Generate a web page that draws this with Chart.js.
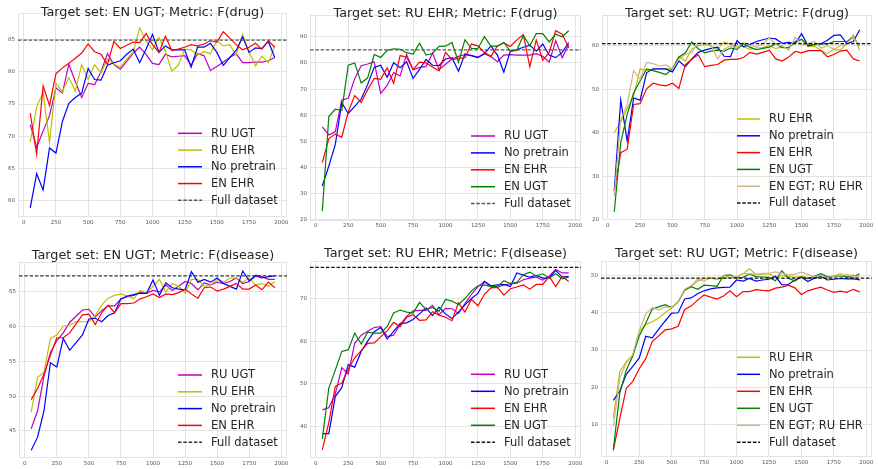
<!DOCTYPE html>
<html><head><meta charset="utf-8">
<script src="https://cdn.jsdelivr.net/npm/chart.js@4.4.0/dist/chart.umd.min.js"></script>
<style>
html,body{margin:0;padding:0;background:#fff;width:878px;height:469px;overflow:hidden}
.panel{position:absolute}
</style></head><body>
<div class="panel" style="left:0px;top:0px;width:293px;height:235px"><canvas id="c1"></canvas></div>
<div class="panel" style="left:293px;top:0px;width:293px;height:235px"><canvas id="c2"></canvas></div>
<div class="panel" style="left:585px;top:0px;width:293px;height:235px"><canvas id="c3"></canvas></div>
<div class="panel" style="left:0px;top:235px;width:293px;height:234px"><canvas id="c4"></canvas></div>
<div class="panel" style="left:293px;top:235px;width:293px;height:234px"><canvas id="c5"></canvas></div>
<div class="panel" style="left:585px;top:235px;width:293px;height:234px"><canvas id="c6"></canvas></div>
<script>
// ---------- shared x values (training set size) ----------
const steps = [50,100,150,200,250,300,350,400,450,500,550,600,650,700,750,800,850,900,950,1000,1050,1100,1150,1200,1250,1300,1350,1400,1450,1500,1550,1600,1650,1700,1750,1800,1850,1900,1950];
const xTicks = [0,250,500,750,1000,1250,1500,1750,2000];

// ---------- Plot 1: EN UGT, F(drug) ----------
const p1Title = "Target set: EN UGT; Metric: F(drug)";
const p1Full = 84.9;
const p1RuUgt = [71.8,68.3,70.8,73.2,77.5,76.7,81.2,78.5,76.0,78.2,78.0,80.0,82.8,81.1,80.4,81.6,82.9,83.8,82.7,81.3,81.1,82.7,82.3,82.4,82.5,81.0,82.8,82.5,80.2,80.8,81.5,82.2,82.8,81.4,81.4,81.5,81.5,81.7,82.2];
const p1RuEhr = [69.1,74.6,76.8,69.1,78.2,76.9,79.1,77.0,81.1,78.8,81.1,79.8,82.0,81.2,80.7,82.0,83.0,86.8,84.8,83.4,85.3,83.2,80.1,81.0,83.5,83.4,82.6,83.1,82.8,84.8,84.0,84.2,82.6,85.8,83.1,80.9,82.4,81.4,84.0];
const p1NoPre = [58.9,64.2,61.7,68.2,67.4,72.3,75.1,76.0,76.7,80.5,78.8,78.7,81.0,81.4,81.7,82.7,83.5,81.4,83.5,85.8,83.0,84.0,83.4,83.4,83.4,80.7,83.8,83.8,84.4,83.0,81.0,82.2,83.3,85.4,83.0,83.7,83.6,84.7,82.2];
const p1EnEhr = [73.6,67.2,77.8,74.8,79.7,80.6,81.3,82.1,82.9,84.3,83.1,82.7,81.1,84.7,83.6,84.1,84.6,84.5,85.9,84.2,83.0,85.5,83.3,83.5,83.8,84.2,84.0,84.3,84.8,84.6,86.2,85.2,84.2,83.4,83.8,84.4,83.5,84.8,83.8];

// ---------- Plot 2: RU EHR, F(drug) ----------
const p2Title = "Target set: RU EHR; Metric: F(drug)";
const p2Full = 85.0;
const p2RuUgt = [55.6,52.5,53.7,65.8,66.5,74.1,78.9,79.6,80.4,68.4,71.4,76.3,75.0,83.2,77.4,78.3,78.6,83.8,77.4,79.5,81.5,82.5,83.2,82.8,82.2,83.5,82.4,80.5,83.0,83.2,83.0,83.0,83.0,83.5,82.5,80.3,88.5,82.0,87.0];
const p2NoPre = [33.0,40.6,48.8,64.8,60.7,63.4,66.2,71.8,78.3,79.1,74.5,80.1,78.2,80.4,74.1,77.5,81.3,79.1,79.0,81.5,82.0,76.8,83.4,82.8,82.0,83.5,86.5,83.0,76.5,84.5,85.0,86.0,86.8,84.5,87.2,83.0,82.0,84.0,87.8];
const p2EnEhr = [41.9,51.1,52.8,51.6,61.3,67.5,64.9,69.8,74.1,73.7,78.1,72.2,82.8,82.2,77.5,80.3,80.0,78.4,77.0,84.0,81.3,81.7,82.0,87.2,86.5,84.0,82.5,86.5,87.6,86.3,88.8,90.8,78.5,88.7,81.0,84.0,92.3,91.0,85.7];
const p2EnUgt = [23.4,59.5,62.3,61.8,79.1,80.0,72.3,74.3,83.2,82.1,84.8,85.4,85.2,83.9,83.4,87.5,83.0,83.6,86.3,86.4,87.8,80.3,88.8,85.5,85.5,90.0,86.4,86.4,87.8,84.5,84.8,90.5,86.5,91.2,91.2,88.0,91.0,90.0,92.3];

// ---------- Plot 3: RU UGT, F(drug) ----------
const p3Title = "Target set: RU UGT; Metric: F(drug)";
const p3Full = 60.5;
const p3RuEhr = [40.0,42.5,45.5,48.5,54.7,54.3,54.6,54.7,54.7,54.7,57.6,56.5,59.3,60.0,60.3,59.9,59.2,60.9,60.3,60.0,59.8,59.2,59.5,59.6,60.0,59.4,59.7,59.5,60.8,61.5,59.8,59.9,59.0,58.2,59.2,59.0,60.5,62.5,59.0];
const p3NoPre = [26.6,47.5,38.1,48.0,47.5,53.8,54.7,54.7,54.7,54.0,56.5,55.2,57.0,58.5,59.0,59.4,59.7,57.6,57.5,61.2,59.8,60.3,61.0,61.4,61.8,61.6,60.6,60.8,60.5,62.8,60.0,60.3,60.5,61.3,62.4,62.5,60.5,61.0,63.7];
const p3EnEhr = [26.6,35.4,36.2,46.5,46.7,50.1,51.4,51.0,50.8,51.4,50.2,55.7,56.9,58.0,55.2,55.5,55.7,56.7,56.9,56.9,57.3,58.5,58.1,58.5,59.0,57.0,56.5,57.4,58.7,58.4,58.9,58.9,58.9,57.5,58.0,58.8,59.0,57.0,56.5];
const p3EnUgt = [21.8,37.7,44.2,49.2,51.9,54.7,54.3,53.9,53.4,54.7,57.4,58.4,60.9,59.3,58.4,58.8,59.0,58.8,59.5,59.2,60.5,59.7,59.1,59.4,59.7,60.5,59.6,59.6,61.0,61.5,60.2,60.3,60.5,60.4,61.0,61.0,61.0,62.0,60.0];
const p3EnEgtRuEhr = [25.4,43.0,46.5,54.3,52.3,56.2,55.9,55.3,55.6,54.7,56.9,58.0,58.5,60.7,60.7,60.1,57.0,59.2,60.0,59.5,60.8,60.0,59.8,60.5,61.8,60.3,60.0,59.0,62.0,60.2,60.5,61.0,59.5,60.0,59.2,60.0,60.5,62.0,60.0];

// ---------- Plot 4: EN UGT, F(disease) ----------
const p4Title = "Target set: EN UGT; Metric: F(disease)";
const p4Full = 67.3;
const p4RuUgt = [45.3,47.9,52.9,56.3,58.0,59.1,60.6,61.5,62.4,62.5,61.4,62.3,63.0,63.0,64.0,64.3,64.5,65.0,64.8,65.2,65.0,66.0,65.2,65.8,66.5,66.2,65.3,66.3,66.0,66.4,66.2,66.5,67.0,66.2,66.5,67.4,67.2,66.8,66.8];
const p4RuEhr = [47.7,52.7,53.4,58.3,58.8,60.1,60.2,60.7,60.7,60.7,61.6,63.1,64.1,64.5,64.7,64.4,64.0,65.2,64.8,65.8,66.8,65.0,66.2,65.8,64.8,66.8,66.8,65.8,66.0,66.8,66.4,67.0,67.0,66.4,67.0,66.0,66.2,65.8,66.5];
const p4NoPre = [42.2,44.1,47.9,54.8,54.2,58.3,56.6,57.7,58.8,61.1,61.2,60.7,61.6,62.0,64.0,64.4,64.6,64.8,64.8,66.7,64.5,66.3,65.6,65.4,65.3,67.9,66.4,66.8,66.4,67.0,66.2,65.8,65.4,68.0,66.6,67.3,67.0,67.2,67.3];
const p4EnEhr = [49.5,51.1,53.2,55.9,58.4,58.4,59.1,60.4,61.7,61.8,60.3,62.0,63.1,62.0,63.3,63.3,63.4,64.0,64.3,64.7,64.2,64.7,64.6,64.9,65.4,64.7,64.1,65.6,65.7,65.1,65.4,65.8,66.2,65.4,65.4,66.0,65.3,66.4,65.6];

// ---------- Plot 5: RU EHR, F(disease) ----------
const p5Title = "Target set: RU EHR; Metric: F(disease)";
const p5Full = 77.3;
const p5RuUgt = [43.9,44.4,47.6,53.8,52.3,59.5,61.4,62.3,63.2,63.4,61.1,61.4,63.9,65.8,67.1,67.2,67.2,68.4,66.2,67.7,67.6,66.5,68.8,71.0,72.8,74.0,72.8,72.6,73.2,73.4,73.6,74.4,74.8,75.0,74.3,75.3,76.8,76.0,76.0];
const p5NoPre = [38.3,38.3,47.0,49.1,54.5,53.9,57.6,60.0,62.2,63.2,60.5,62.3,64.1,64.3,65.1,66.4,67.8,66.0,68.0,66.4,65.3,66.8,68.5,70.0,71.2,74.0,73.0,73.2,73.3,72.8,76.0,75.5,75.0,75.4,74.8,74.8,76.6,75.0,75.2];
const p5EnEhr = [34.5,40.9,49.4,50.2,53.4,56.1,57.8,59.5,59.6,61.0,62.4,64.4,63.4,65.6,66.2,64.9,65.0,66.9,66.1,65.6,64.8,69.0,66.8,69.8,68.3,71.0,72.5,72.6,70.8,72.3,72.7,73.2,72.2,73.3,73.3,75.2,72.8,75.2,74.0];
const p5EnUgt = [37.1,49.0,53.2,57.6,58.0,61.9,59.3,62.1,61.9,61.9,63.4,66.6,67.3,66.8,66.6,69.1,67.4,67.9,67.0,69.8,69.4,68.6,70.0,71.8,73.0,73.2,72.8,72.8,74.2,73.5,73.8,75.6,76.2,75.3,75.8,74.8,75.8,74.6,75.0];

// ---------- Plot 6: RU UGT, F(disease) ----------
const p6Title = "Target set: RU UGT; Metric: F(disease)";
const p6Full = 49.3;
const p6RuEhr = [11.8,24.2,26.9,28.7,34.9,36.9,37.6,38.6,40.0,41.3,43.0,46.0,47.0,48.5,49.2,49.2,49.0,49.3,49.4,49.5,50.5,51.8,50.3,50.4,50.5,49.5,50.0,49.8,49.5,49.8,49.5,49.3,49.5,49.3,49.8,50.5,49.5,50.2,48.6];
const p6NoPre = [16.5,19.0,23.5,25.6,27.9,33.7,33.3,35.6,37.8,39.9,40.0,43.7,44.0,45.1,45.9,46.4,46.7,46.8,46.9,48.8,48.5,49.2,48.5,48.8,49.0,49.8,47.5,47.6,48.8,49.6,48.4,49.3,49.8,48.8,49.0,49.2,49.1,49.1,48.9];
const p6EnEhr = [3.1,11.6,19.7,21.6,25.0,27.7,32.3,33.8,35.4,35.7,36.4,40.9,41.8,43.4,44.8,44.2,43.7,44.5,45.9,44.3,45.7,45.7,46.2,46.0,45.9,46.6,46.9,47.4,46.7,44.9,45.9,46.4,46.9,46.1,45.5,45.8,45.5,46.3,45.6];
const p6EnUgt = [3.3,18.5,24.6,28.4,33.8,37.2,41.0,41.6,42.2,41.4,42.9,46.1,47.0,46.3,47.4,47.3,47.1,50.0,50.2,49.4,49.5,50.4,49.7,49.6,49.5,48.6,51.3,49.3,48.5,49.6,49.2,49.8,50.5,49.7,49.8,49.9,49.7,49.6,50.5];
const p6EnEgtRuEhr = [9.4,22.5,26.5,28.8,35.2,39.7,41.4,40.8,41.6,41.4,43.0,46.3,47.3,49.0,48.5,49.5,49.0,50.0,49.5,49.8,50.5,50.5,50.3,50.6,50.6,51.0,50.6,50.2,50.3,50.9,50.3,49.7,50.0,49.5,49.8,50.0,50.3,49.8,49.8];

// ---------- styling ----------
const COL = {m:'rgb(191,0,191)', y:'rgb(191,191,0)', b:'#0000ff', r:'#ff0000', g:'#008000', tan:'#d2b48c'};
const GRID = '#e3e3e3';
const FONT = '"DejaVu Sans", "Liberation Sans", sans-serif';
Chart.defaults.font.family = FONT;

const decor = {
  id: 'decor',
  beforeDatasetsDraw(chart) {
    const a = chart.chartArea, ctx = chart.ctx;
    ctx.save();
    ctx.strokeStyle = GRID; ctx.lineWidth = 1;
    ctx.strokeRect(a.left + 0.5, a.top + 0.5, a.right - a.left - 1, a.bottom - a.top - 1);
    ctx.restore();
  },
  afterDatasetsDraw(chart, args, o) {
    const a = chart.chartArea, ctx = chart.ctx;
    const yp = chart.scales.y.getPixelForValue(o.full);
    ctx.save();
    ctx.beginPath(); ctx.rect(a.left, a.top, a.right - a.left, a.bottom - a.top); ctx.clip();
    ctx.setLineDash([3.5, 1.8]);
    ctx.strokeStyle = o.fullColor; ctx.lineWidth = 1.2;
    ctx.beginPath(); ctx.moveTo(a.left, yp); ctx.lineTo(a.right, yp); ctx.stroke();
    ctx.restore();
  },
  afterDraw(chart, args, o) {
    const a = chart.chartArea, ctx = chart.ctx;
    ctx.save();
    ctx.fillStyle = '#262626';
    ctx.font = '12.8px ' + FONT;
    ctx.textAlign = 'center'; ctx.textBaseline = 'alphabetic';
    ctx.fillText(o.title, (a.left + a.right) / 2, o.titleY);
    const entries = o.legendOrder.map(i => chart.data.datasets[i]).map(d => ({label: d.label, color: d.borderColor, dash: []}));
    entries.push({label: 'Full dataset', color: o.fullColor, dash: [3.5, 1.8]});
    ctx.font = '11.5px ' + FONT;
    ctx.textAlign = 'left'; ctx.textBaseline = 'middle';
    entries.forEach((e, k) => {
      const y = o.leg.y0 + k * o.leg.dy;
      ctx.strokeStyle = e.color; ctx.lineWidth = 1.5; ctx.setLineDash(e.dash);
      ctx.beginPath(); ctx.moveTo(o.leg.x0, y); ctx.lineTo(o.leg.x1, y); ctx.stroke();
      ctx.setLineDash([]);
      ctx.fillStyle = '#262626';
      ctx.fillText(e.label, o.leg.tx, y + 0.5);
    });
    ctx.restore();
  }
};

function makeChart(id, p) {
  const datasets = p.series.map((s, i) => ({
    label: s.label,
    data: steps.map((x, j) => ({x: x, y: s.values[j]})),
    borderColor: s.color, backgroundColor: s.color,
    borderWidth: 1.2, pointRadius: 0, fill: false, tension: 0,
    order: -i
  }));
  new Chart(document.getElementById(id), {
    type: 'line',
    data: {datasets},
    options: {
      responsive: true, maintainAspectRatio: false, animation: false, devicePixelRatio: 1,
      layout: {padding: {left: 0, top: p.padTop, right: p.padRight, bottom: 0}},
      plugins: {
        legend: {display: false}, tooltip: {enabled: false}, title: {display: false},
        decor: {title: p.title, titleY: p.titleY, full: p.full, fullColor: p.fullColor,
                legendOrder: p.series.map((s, i) => i), leg: p.leg}
      },
      scales: {
        x: {
          type: 'linear', min: -45, max: 2045,
          afterFit: ax => { ax.height = p.xh; },
          afterBuildTicks: ax => { ax.ticks = xTicks.map(v => ({value: v})); },
          grid: {color: GRID, lineWidth: 1, drawTicks: false},
          border: {display: false},
          ticks: {font: {size: 5.5}, color: '#555', padding: 2, maxRotation: 0, autoSkip: false,
                  callback: v => String(v)}
        },
        y: {
          type: 'linear', min: p.ymin, max: p.ymax,
          afterFit: ax => { ax.width = p.yw; },
          afterBuildTicks: ax => { ax.ticks = p.yTicks.map(v => ({value: v})); },
          grid: {color: GRID, lineWidth: 1, drawTicks: false},
          border: {display: false},
          ticks: {font: {size: 5.5}, color: '#555', padding: 3, callback: v => String(v)}
        }
      }
    },
    plugins: [decor]
  });
}

makeChart('c1', {
  title: p1Title, titleY: 15.7, full: p1Full, fullColor: '#555',
  ymin: 57.5, ymax: 89.1, yTicks: [60,65,70,75,80,85],
  padTop: 13, padRight: 6, yw: 18, xh: 18,
  leg: {x0: 178, x1: 202, tx: 211, y0: 133.3, dy: 16.75},
  series: [
    {label: 'RU UGT', color: COL.m, values: p1RuUgt},
    {label: 'RU EHR', color: COL.y, values: p1RuEhr},
    {label: 'No pretrain', color: COL.b, values: p1NoPre},
    {label: 'EN EHR', color: COL.r, values: p1EnEhr}
  ]
});
makeChart('c2', {
  title: p2Title, titleY: 17.3, full: p2Full, fullColor: '#555',
  ymin: 20, ymax: 98.3, yTicks: [20,30,40,50,60,70,80,90],
  padTop: 15, padRight: 5, yw: 17, xh: 15,
  leg: {x0: 178, x1: 202, tx: 211, y0: 136, dy: 16.9},
  series: [
    {label: 'RU UGT', color: COL.m, values: p2RuUgt},
    {label: 'No pretrain', color: COL.b, values: p2NoPre},
    {label: 'EN EHR', color: COL.r, values: p2EnEhr},
    {label: 'EN UGT', color: COL.g, values: p2EnUgt}
  ]
});
makeChart('c3', {
  title: p3Title, titleY: 17.3, full: p3Full, fullColor: '#111',
  ymin: 19.9, ymax: 67.1, yTicks: [20,30,40,50,60],
  padTop: 15, padRight: 6, yw: 17, xh: 15,
  leg: {x0: 152, x1: 175, tx: 184, y0: 119, dy: 16.8},
  series: [
    {label: 'RU EHR', color: COL.y, values: p3RuEhr},
    {label: 'No pretrain', color: COL.b, values: p3NoPre},
    {label: 'EN EHR', color: COL.r, values: p3EnEhr},
    {label: 'EN UGT', color: COL.g, values: p3EnUgt},
    {label: 'EN EGT; RU EHR', color: COL.tan, values: p3EnEgtRuEhr}
  ]
});
makeChart('c4', {
  title: p4Title, titleY: 23.5, full: p4Full, fullColor: '#333',
  ymin: 41.1, ymax: 69.3, yTicks: [45,50,55,60,65],
  padTop: 27, padRight: 6, yw: 19, xh: 11,
  leg: {x0: 178, x1: 202, tx: 211, y0: 140, dy: 16.8},
  series: [
    {label: 'RU UGT', color: COL.m, values: p4RuUgt},
    {label: 'RU EHR', color: COL.y, values: p4RuEhr},
    {label: 'No pretrain', color: COL.b, values: p4NoPre},
    {label: 'EN EHR', color: COL.r, values: p4EnEhr}
  ]
});
makeChart('c5', {
  title: p5Title, titleY: 21.7, full: p5Full, fullColor: '#111',
  ymin: 32.6, ymax: 78.8, yTicks: [40,50,60,70],
  padTop: 26, padRight: 5, yw: 17, xh: 11,
  leg: {x0: 178, x1: 202, tx: 211, y0: 139.3, dy: 17},
  series: [
    {label: 'RU UGT', color: COL.m, values: p5RuUgt},
    {label: 'No pretrain', color: COL.b, values: p5NoPre},
    {label: 'EN EHR', color: COL.r, values: p5EnEhr},
    {label: 'EN UGT', color: COL.g, values: p5EnUgt}
  ]
});
makeChart('c6', {
  title: p6Title, titleY: 22, full: p6Full, fullColor: '#111',
  ymin: 1.3, ymax: 53.9, yTicks: [10,20,30,40,50],
  padTop: 26, padRight: 6, yw: 16, xh: 12,
  leg: {x0: 152, x1: 175, tx: 184, y0: 122.3, dy: 17},
  series: [
    {label: 'RU EHR', color: COL.y, values: p6RuEhr},
    {label: 'No pretrain', color: COL.b, values: p6NoPre},
    {label: 'EN EHR', color: COL.r, values: p6EnEhr},
    {label: 'EN UGT', color: COL.g, values: p6EnUgt},
    {label: 'EN EGT; RU EHR', color: COL.tan, values: p6EnEgtRuEhr}
  ]
});
</script>
</body></html>
